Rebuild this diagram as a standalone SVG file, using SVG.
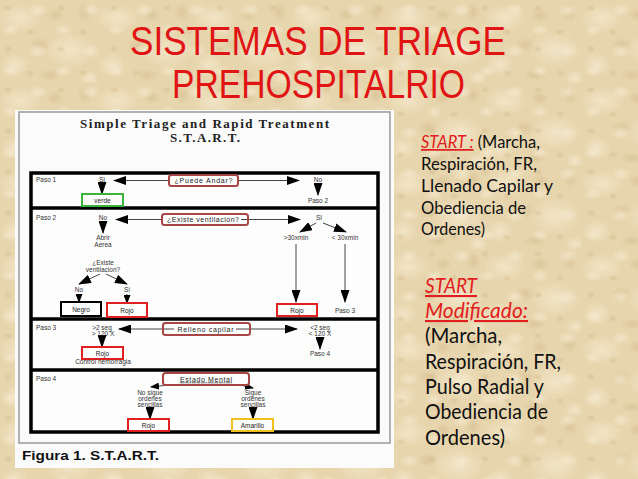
<svg xmlns="http://www.w3.org/2000/svg" width="638" height="479" viewBox="0 0 638 479">
<defs>
<radialGradient id="lt"><stop offset="0" stop-color="#f5eacf" stop-opacity="0.75"/><stop offset="1" stop-color="#f5eacf" stop-opacity="0"/></radialGradient>
<radialGradient id="dk"><stop offset="0" stop-color="#cdb282" stop-opacity="0.4"/><stop offset="1" stop-color="#cdb282" stop-opacity="0"/></radialGradient>
<pattern id="tex" patternUnits="userSpaceOnUse" width="97" height="83">
<rect width="97" height="83" fill="#e7d5ad"/>
<ellipse cx="20" cy="18" rx="22" ry="14" fill="url(#lt)"/>
<ellipse cx="70" cy="50" rx="26" ry="18" fill="url(#lt)"/>
<ellipse cx="15" cy="65" rx="14" ry="12" fill="url(#lt)"/>
<ellipse cx="55" cy="15" rx="9" ry="7" fill="url(#dk)"/>
<ellipse cx="40" cy="45" rx="11" ry="8" fill="url(#dk)"/>
<ellipse cx="85" cy="12" rx="8" ry="10" fill="url(#dk)"/>
<ellipse cx="50" cy="75" rx="12" ry="6" fill="url(#dk)"/>
<ellipse cx="90" cy="78" rx="10" ry="8" fill="url(#lt)"/>
</pattern>
<pattern id="tex2" patternUnits="userSpaceOnUse" width="53" height="41">
<ellipse cx="10" cy="30" rx="9" ry="6" fill="url(#lt)"/>
<ellipse cx="38" cy="10" rx="10" ry="7" fill="url(#lt)"/>
<ellipse cx="30" cy="32" rx="5" ry="4" fill="url(#dk)"/>
<ellipse cx="8" cy="8" rx="5" ry="4" fill="url(#dk)"/>
</pattern>
<marker id="ah" markerUnits="userSpaceOnUse" markerWidth="13" markerHeight="9" refX="12" refY="4.5" orient="auto" viewBox="0 0 13 9">
<path d="M0,0 L13,4.5 L0,9 z" fill="#000"/>
</marker>
<marker id="ahs" markerUnits="userSpaceOnUse" markerWidth="9" markerHeight="7" refX="8" refY="3.5" orient="auto" viewBox="0 0 9 7">
<path d="M0,0 L9,3.5 L0,7 z" fill="#000"/>
</marker>
<style>
.title{font-family:"Liberation Sans",Arial,sans-serif;font-size:41px;fill:#e01414;text-anchor:start}
.rt{font-family:"Lato","Liberation Sans",sans-serif;fill:#111}
.red{fill:#e02020;font-style:italic;text-decoration:underline}
.t{font-family:"Liberation Sans",Arial,sans-serif;font-size:6.5px;fill:#333;text-anchor:middle}
.qt{font-family:"Liberation Sans",Arial,sans-serif;font-size:7px;fill:#222;text-anchor:middle}
.pl{font-family:"Liberation Sans",Arial,sans-serif;font-size:6.5px;fill:#333}
.q{fill:#fff;stroke:#a84646;stroke-width:2}
.dv{stroke:#000;stroke-width:3.5;fill:none}
.ln{stroke:#444;stroke-width:1;fill:none}
.arr{stroke:#444;stroke-width:1;fill:none;marker-end:url(#ah)}
.arrs{stroke:#444;stroke-width:1;fill:none;marker-end:url(#ahs)}
.box{fill:#fff;stroke-width:2}
</style>
</defs>
<rect width="638" height="479" fill="url(#tex)"/>
<rect width="638" height="479" fill="url(#tex2)"/>

<g id="title">
<text class="title" x="130" y="55" textLength="376" lengthAdjust="spacingAndGlyphs">SISTEMAS DE TRIAGE</text>
<text class="title" x="172" y="98" textLength="293" lengthAdjust="spacingAndGlyphs">PREHOSPITALRIO</text>
</g>

<g id="figure">
<rect x="15" y="110" width="379" height="358" fill="#fbfbfb"/>
<rect x="19" y="112" width="371" height="331" fill="#fbfbfb" stroke="#999" stroke-width="1.5"/>
<rect x="31" y="173" width="347" height="259" fill="#fdfdfd"/>
<text x="80" y="128" textLength="249" style="font-family:'Liberation Serif','Times New Roman',serif;font-size:13px;font-weight:bold;fill:#222">Simple Triage and Rapid Treatment</text>
<text x="170" y="142" textLength="70" style="font-family:'Liberation Serif','Times New Roman',serif;font-size:13px;font-weight:bold;fill:#222">S.T.A.R.T.</text>
<text x="22" y="460" textLength="137" lengthAdjust="spacingAndGlyphs" style="font-family:'Liberation Sans',Arial,sans-serif;font-size:12px;font-weight:bold;fill:#111">Figura 1. S.T.A.R.T.</text>
<path class="dv" d="M31,173 H378 V432 H31 Z M31,208 H378 M31,319 H378 M31,370 H378"/>
<text class="pl" x="36" y="182">Paso 1</text>
<text class="pl" x="36" y="220">Paso 2</text>
<text class="pl" x="36" y="330">Paso 3</text>
<text class="pl" x="36" y="381">Paso 4</text>
</g>

<g id="connectors">
<line class="arr" x1="169" y1="180.5" x2="114" y2="180.5"/>
<line class="arr" x1="238" y1="180.5" x2="299" y2="180.5"/>
<line class="arr" x1="102" y1="184" x2="102" y2="194"/>
<line class="arr" x1="318" y1="184" x2="318" y2="195"/>
<line class="arr" x1="162" y1="219.5" x2="116" y2="219.5"/>
<line class="arr" x1="248" y1="219.5" x2="300" y2="219.5"/>
<line class="arr" x1="316" y1="223" x2="300" y2="232"/>
<line class="arr" x1="323" y1="223" x2="346" y2="232"/>
<line class="arr" x1="296" y1="244" x2="296" y2="302"/>
<line class="arr" x1="345" y1="244" x2="345" y2="302"/>
<line class="arr" x1="103" y1="222" x2="103" y2="233"/>
<line class="arr" x1="100" y1="274" x2="79" y2="284"/>
<line class="arr" x1="106" y1="274" x2="127" y2="284"/>
<line class="arrs" x1="79" y1="294" x2="79" y2="302"/>
<line class="arrs" x1="127" y1="294" x2="127" y2="303"/>
<line class="arr" x1="163" y1="329" x2="119" y2="329"/>
<line class="arr" x1="250" y1="329" x2="297" y2="329"/>
<line class="arr" x1="102" y1="338" x2="102" y2="347"/>
<line class="arr" x1="320" y1="338" x2="320" y2="349"/>
<line class="arrs" x1="168" y1="385" x2="151" y2="387"/>
<line class="arrs" x1="240" y1="385" x2="253" y2="388"/>
<line class="arr" x1="150" y1="408" x2="150" y2="419"/>
<line class="arr" x1="253" y1="408" x2="253" y2="419"/>
</g>

<g id="n-puede-andar">
<rect class="q" x="169" y="175" width="69" height="11" rx="2.5"/>
<text class="qt" x="203.5" y="183" textLength="58">¿Puede Andar?</text>
</g>
<g id="n-si1"><text class="t" x="102" y="182">SI</text></g>
<g id="n-no1"><text class="t" x="318" y="182">No</text></g>
<g id="n-paso2"><text class="t" x="318" y="203">Paso 2</text></g>
<g id="n-verde">
<rect class="box" x="82" y="194" width="41" height="12" stroke="#3cb43c"/>
<text class="t" x="102.5" y="202.5" style="fill:#222">verde</text>
</g>

<g id="n-existe-vent">
<rect class="q" x="162" y="214" width="86" height="11" rx="2.5"/>
<text class="qt" x="203" y="222" textLength="72">¿Existe ventilación?</text>
<line class="ln" x1="241" y1="219.5" x2="247" y2="219.5"/>
</g>
<g id="n-no2"><text class="t" x="103" y="220">No</text></g>
<g id="n-si2"><text class="t" x="319" y="220">SI</text></g>
<g id="n-lt30"><text class="t" x="296" y="240">&gt;30xmin</text></g>
<g id="n-gt30"><text class="t" x="345" y="240">&lt; 30xmin</text></g>
<g id="n-rojo2">
<rect class="box" x="277" y="304" width="40" height="12" stroke="#e02020"/>
<text class="t" x="297" y="312.5" style="fill:#222">Rojo</text>
</g>
<g id="n-paso3"><text class="t" x="345" y="312.5">Paso 3</text></g>
<g id="n-abrir">
<text class="t" x="103" y="240">Abrir</text>
<text class="t" x="103" y="247">Aerea</text>
</g>
<g id="n-existe2">
<text class="t" x="103" y="265">¿Existe</text>
<text class="t" x="103" y="271.5">ventilacion?</text>
</g>
<g id="n-no3"><text class="t" x="79" y="292">No</text></g>
<g id="n-si3"><text class="t" x="127" y="292">Si</text></g>
<g id="n-negro">
<rect class="box" x="61" y="302" width="40" height="14" stroke="#000"/>
<text class="t" x="81" y="311.5" style="fill:#222">Negro</text>
</g>
<g id="n-rojo3">
<rect class="box" x="107" y="303" width="40" height="14" stroke="#e02020"/>
<text class="t" x="127" y="312.5" style="fill:#222">Rojo</text>
</g>

<g id="n-relleno">
<rect class="q" x="163" y="323" width="87" height="12" rx="2.5"/>
<line class="ln" x1="164" y1="329" x2="174" y2="329"/>
<line class="ln" x1="236" y1="329" x2="249" y2="329"/>
<text class="qt" x="205.5" y="331.5" textLength="56">Relleno capilar</text>
</g>
<g id="n-gt2">
<text class="t" x="102" y="330">&gt;2 seg</text>
<text class="t" x="103" y="336">&gt; 120 X</text>
</g>
<g id="n-lt2">
<text class="t" x="320" y="330">&lt;2 seg</text>
<text class="t" x="320" y="336">&lt; 120 X</text>
</g>
<g id="n-rojo4">
<rect class="box" x="82" y="347" width="41" height="12" stroke="#e02020"/>
<text class="t" x="102.5" y="355.5" style="fill:#222">Rojo</text>
<text class="t" x="103" y="364">Control hemorragia</text>
</g>
<g id="n-paso4"><text class="t" x="320" y="356">Paso 4</text></g>

<g id="n-estado">
<rect class="q" x="163" y="373" width="86" height="12" rx="2.5"/>
<text class="qt" x="206" y="381.5" textLength="52" style="text-decoration:underline">Estado Mental</text>
</g>
<g id="n-nosigue">
<text class="t" x="150" y="394.5">No sigue</text>
<text class="t" x="150" y="400.5">ordenes</text>
<text class="t" x="150" y="406.5">sencillas</text>
</g>
<g id="n-sigue">
<text class="t" x="253" y="394.5">Sigue</text>
<text class="t" x="253" y="400.5">ordenes</text>
<text class="t" x="253" y="406.5">sencillas</text>
</g>
<g id="n-rojo5">
<rect class="box" x="128" y="419" width="41" height="12" stroke="#e02020"/>
<text class="t" x="148.5" y="427.5" style="fill:#222">Rojo</text>
</g>
<g id="n-amarillo">
<rect class="box" x="232" y="419" width="41" height="12" stroke="#f0c020"/>
<text class="t" x="252.5" y="427.5" style="fill:#222">Amarillo</text>
</g>

<g id="text-start" class="rt" style="font-size:17.5px">
<text x="421" y="148" textLength="119" lengthAdjust="spacingAndGlyphs"><tspan class="red">START :</tspan> (Marcha,</text>
<text x="421" y="170" textLength="116" lengthAdjust="spacingAndGlyphs">Respiración, FR,</text>
<text x="421" y="192" textLength="132" lengthAdjust="spacingAndGlyphs">Llenado Capilar y</text>
<text x="421" y="214" textLength="105" lengthAdjust="spacingAndGlyphs">Obediencia de</text>
<text x="421" y="235" textLength="64" lengthAdjust="spacingAndGlyphs">Ordenes)</text>
</g>

<g id="text-start-mod" class="rt" style="font-size:21px">
<text x="425" y="293" textLength="52" lengthAdjust="spacingAndGlyphs" class="red">START</text>
<text x="425" y="318" textLength="103" lengthAdjust="spacingAndGlyphs" class="red">Modificado:</text>
<text x="425" y="343" textLength="77" lengthAdjust="spacingAndGlyphs">(Marcha,</text>
<text x="425" y="369" textLength="136" lengthAdjust="spacingAndGlyphs">Respiración, FR,</text>
<text x="425" y="394" textLength="119" lengthAdjust="spacingAndGlyphs">Pulso Radial y</text>
<text x="425" y="419" textLength="123" lengthAdjust="spacingAndGlyphs">Obediencia de</text>
<text x="425" y="445" textLength="80" lengthAdjust="spacingAndGlyphs">Ordenes)</text>
</g>
</svg>
